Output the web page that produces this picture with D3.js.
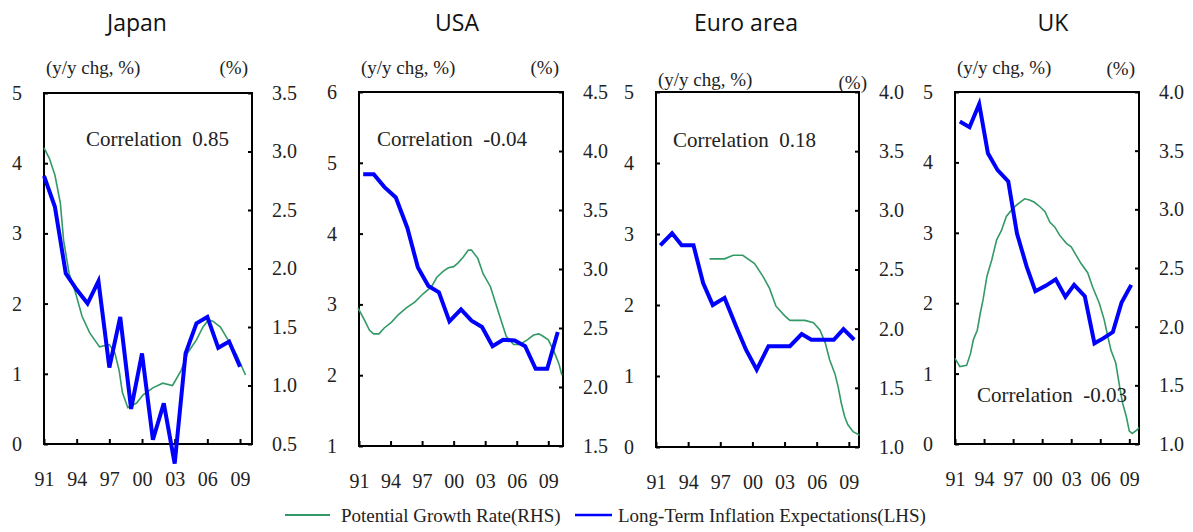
<!DOCTYPE html>
<html>
<head>
<meta charset="utf-8">
<script src="https://cdnjs.cloudflare.com/ajax/libs/d3/7.8.5/d3.min.js"></script>
<style>
  body { margin: 0; background: #fff; }
  text { font-family: "Liberation Serif", "Times New Roman", serif; fill: #222; }
  .title { font-family: "Open Sans", sans-serif; font-size: 23px; fill: #111; }
</style>
</head>
<body>
<div id="chart"></div>
<script>

// x axis ticks, shared by the four panels
var tickYears = [1991, 1994, 1997, 2000, 2003, 2006, 2009];
var tickLabels = ["91", "94", "97", "00", "03", "06", "09"];

// Japan
var jpInflYears = [1991, 1992, 1993, 1994, 1995, 1996, 1997, 1998, 1999, 2000, 2001, 2002, 2003, 2004, 2005, 2006, 2007, 2008, 2009];
var jpInfl = [3.82, 3.38, 2.43, 2.2, 2.0, 2.32, 1.09, 1.81, 0.5, 1.29, 0.06, 0.58, -0.28, 1.29, 1.72, 1.81, 1.37, 1.46, 1.1];
var jpGrowthYears = [1991.0, 1991.5, 1992.0, 1992.5, 1992.8, 1993.3, 1993.9, 1994.5, 1995.2, 1996.1, 1997.0, 1997.5, 1997.9, 1998.2, 1998.7, 1999.5, 2000.1, 2001.0, 2001.9, 2002.8, 2003.6, 2004.2, 2005.0, 2005.6, 2006.1, 2006.5, 2007.2, 2007.9, 2008.7, 2009.5];
var jpGrowth = [3.03, 2.94, 2.80, 2.56, 2.24, 1.96, 1.79, 1.59, 1.45, 1.33, 1.35, 1.28, 1.13, 0.94, 0.81, 0.85, 0.92, 0.98, 1.02, 1.0, 1.13, 1.28, 1.39, 1.50, 1.56, 1.55, 1.50, 1.39, 1.26, 1.09];

// USA
var usInflYears = [1991.4, 1992.4, 1993.4, 1994.5, 1995.6, 1996.6, 1997.6, 1998.6, 1999.6, 2000.7, 2001.7, 2002.7, 2003.7, 2004.7, 2005.8, 2006.8, 2007.8, 2008.9, 2009.9];
var usInfl = [4.84, 4.84, 4.66, 4.51, 4.08, 3.52, 3.26, 3.17, 2.76, 2.93, 2.77, 2.68, 2.41, 2.50, 2.49, 2.41, 2.09, 2.09, 2.61];
var usGrowthYears = [1990.9, 1991.5, 1992.0, 1992.4, 1992.9, 1993.4, 1994.1, 1994.7, 1995.5, 1996.3, 1997.1, 1997.9, 1998.4, 1999.0, 1999.5, 2000.0, 2000.4, 2000.9, 2001.4, 2001.7, 2002.3, 2002.8, 2003.5, 2004.1, 2004.6, 2005.0, 2005.7, 2006.3, 2007.0, 2007.6, 2008.1, 2008.5, 2009.0, 2009.5, 2010.0, 2010.3];
var usGrowth = [2.67, 2.57, 2.48, 2.45, 2.45, 2.50, 2.55, 2.61, 2.67, 2.72, 2.79, 2.85, 2.93, 2.98, 3.01, 3.02, 3.05, 3.10, 3.16, 3.16, 3.09, 2.96, 2.85, 2.68, 2.54, 2.43, 2.36, 2.36, 2.40, 2.44, 2.45, 2.43, 2.40, 2.31, 2.20, 2.10];

// Euro area
var euInflYears = [1991.4, 1992.5, 1993.4, 1994.5, 1995.4, 1996.3, 1997.4, 1998.5, 1999.4, 2000.4, 2001.5, 2002.6, 2003.5, 2004.6, 2005.5, 2006.5, 2007.6, 2008.5, 2009.5];
var euInfl = [2.84, 3.01, 2.84, 2.84, 2.31, 2.0, 2.10, 1.69, 1.37, 1.09, 1.42, 1.42, 1.42, 1.59, 1.51, 1.51, 1.51, 1.66, 1.51];
var euGrowthYears = [1996.0, 1997.4, 1998.2, 1999.1, 2000.2, 2001.0, 2001.6, 2002.2, 2003.0, 2003.5, 2004.9, 2005.7, 2006.3, 2006.8, 2007.2, 2007.7, 2008.0, 2008.3, 2008.6, 2008.9, 2009.4, 2010.0];
var euGrowth = [2.59, 2.59, 2.62, 2.62, 2.55, 2.44, 2.34, 2.19, 2.11, 2.07, 2.07, 2.05, 1.99, 1.88, 1.74, 1.62, 1.51, 1.37, 1.26, 1.19, 1.13, 1.10];

// UK
var ukInflYears = [1991.5, 1992.5, 1993.5, 1994.4, 1995.4, 1996.5, 1997.4, 1998.4, 1999.3, 2000.4, 2001.4, 2002.4, 2003.3, 2004.4, 2005.4, 2006.3, 2007.3, 2008.2, 2009.2];
var ukInfl = [4.58, 4.50, 4.83, 4.13, 3.89, 3.73, 2.99, 2.52, 2.17, 2.25, 2.34, 2.09, 2.26, 2.10, 1.43, 1.50, 1.59, 2.01, 2.26];
var ukGrowthYears = [1991.0, 1991.5, 1992.2, 1992.6, 1992.9, 1993.3, 1993.6, 1993.9, 1994.3, 1994.8, 1995.3, 1995.8, 1996.3, 1997.0, 1997.7, 1998.2, 1998.7, 1999.2, 1999.8, 2000.3, 2000.8, 2001.3, 2001.8, 2002.5, 2003.0, 2003.5, 2004.0, 2004.7, 2005.2, 2005.9, 2006.4, 2006.8, 2007.1, 2007.6, 2008.0, 2008.3, 2008.7, 2009.0, 2009.3, 2009.8, 2010.0];
var ukGrowth = [1.73, 1.66, 1.67, 1.77, 1.89, 1.97, 2.11, 2.23, 2.43, 2.57, 2.74, 2.82, 2.94, 3.01, 3.06, 3.09, 3.08, 3.06, 3.02, 2.98, 2.89, 2.85, 2.78, 2.71, 2.68, 2.61, 2.54, 2.46, 2.34, 2.20, 2.06, 1.91, 1.80, 1.69, 1.49, 1.35, 1.23, 1.11, 1.09, 1.12, 1.14];

// panel layout (pixel boxes etc.)
var panels = [
  { title: "Japan", titleX: 137, corr: "Correlation  0.85", corrX: 86, corrY: 146,
    x0: 44, x1: 252, y0: 93, y1: 444, xEnd: 2010.1,
    left: [0, 5], right: [0.5, 3.5], unitY: 74, pctY: 74,
    inflYears: jpInflYears, infl: jpInfl, growthYears: jpGrowthYears, growth: jpGrowth },
  { title: "USA", titleX: 457, corr: "Correlation  -0.04", corrX: 377, corrY: 146,
    x0: 359, x1: 563, y0: 92, y1: 446, xEnd: 2010.4,
    left: [1, 6], right: [1.5, 4.5], unitY: 74, pctY: 74,
    inflYears: usInflYears, infl: usInfl, growthYears: usGrowthYears, growth: usGrowth },
  { title: "Euro area", titleX: 746, corr: "Correlation  0.18", corrX: 673, corrY: 147,
    x0: 656, x1: 859, y0: 92, y1: 447, xEnd: 2009.95,
    left: [0, 5], right: [1.0, 4.0], unitY: 86, pctY: 89, pctShift: 12,
    inflYears: euInflYears, infl: euInfl, growthYears: euGrowthYears, growth: euGrowth },
  { title: "UK", titleX: 1053, corr: "Correlation  -0.03", corrX: 977, corrY: 402,
    x0: 955, x1: 1139, y0: 92, y1: 444, xEnd: 2010.0,
    left: [0, 5], right: [1.0, 4.0], unitY: 74, pctY: 75,
    inflYears: ukInflYears, infl: ukInfl, growthYears: ukGrowthYears, growth: ukGrowth }
];

var blue = "#0000ff";
var green = "#339966";

var svg = d3.select("#chart").append("svg")
  .attr("width", 1193)
  .attr("height", 532);

function drawPanel(p) {
  var g = svg.append("g");

  var x = d3.scaleLinear().domain([1991, p.xEnd]).range([p.x0, p.x1]);
  var yL = d3.scaleLinear().domain(p.left).range([p.y1, p.y0]);
  var yR = d3.scaleLinear().domain(p.right).range([p.y1, p.y0]);

  // title
  g.append("text").attr("class", "title")
    .attr("x", p.titleX).attr("y", 31)
    .attr("text-anchor", "middle")
    .text(p.title);

  // unit labels
  g.append("text")
    .attr("x", p.x0 + 2).attr("y", p.unitY)
    .style("font-size", "19px")
    .text("(y/y chg, %)");
  g.append("text")
    .attr("x", p.x1 - 4 + (p.pctShift || 0)).attr("y", p.pctY)
    .attr("text-anchor", "end")
    .style("font-size", "19px")
    .text("(%)");

  // left axis (ticks inside)
  var leftAxis = d3.axisLeft(yL).ticks(5).tickSize(-4).tickPadding(22).tickFormat(d3.format("d"));
  var la = g.append("g").attr("transform", "translate(" + p.x0 + ",0)").call(leftAxis);

  // right axis (ticks inside)
  var rightTicks = d3.range(p.right[0], p.right[1] + 0.01, 0.5);
  var rightAxis = d3.axisRight(yR).tickValues(rightTicks).tickSize(-4).tickPadding(20).tickFormat(d3.format(".1f"));
  var ra = g.append("g").attr("transform", "translate(" + p.x1 + ",0)").call(rightAxis);

  // bottom axis (ticks inside)
  var bottomAxis = d3.axisBottom(x).tickValues(tickYears).tickSize(-5).tickPadding(28)
    .tickFormat(function(d, i) { return tickLabels[i]; });
  var ba = g.append("g").attr("transform", "translate(0," + p.y1 + ")").call(bottomAxis);

  [la, ra, ba].forEach(function(a) {
    a.select(".domain").remove();
    a.selectAll(".tick line").attr("stroke", "#000").attr("stroke-width", 2);
    a.selectAll(".tick text")
      .style("font-family", "'Liberation Serif', serif")
      .style("font-size", "20px")
      .attr("fill", "#222");
  });

  // frame
  g.append("rect")
    .attr("x", p.x0).attr("y", p.y0)
    .attr("width", p.x1 - p.x0).attr("height", p.y1 - p.y0)
    .attr("fill", "none").attr("stroke", "#000").attr("stroke-width", 2);

  // potential growth (RHS)
  var growthLine = d3.line()
    .x(function(d, i) { return x(p.growthYears[i]); })
    .y(function(d) { return yR(d); });
  g.append("path").datum(p.growth)
    .attr("d", growthLine)
    .attr("fill", "none").attr("stroke", green).attr("stroke-width", 1.6);

  // inflation expectations (LHS)
  var inflLine = d3.line()
    .x(function(d, i) { return x(p.inflYears[i]); })
    .y(function(d) { return yL(d); });
  g.append("path").datum(p.infl)
    .attr("d", inflLine)
    .attr("fill", "none").attr("stroke", blue).attr("stroke-width", 4)
    .attr("stroke-linejoin", "miter");

  // correlation note
  g.append("text")
    .attr("x", p.corrX).attr("y", p.corrY)
    .style("font-size", "21px")
    .attr("xml:space", "preserve")
    .style("white-space", "pre")
    .text(p.corr);
}

panels.forEach(drawPanel);

// legend
var legend = svg.append("g");
legend.append("line").attr("x1", 285).attr("x2", 330).attr("y1", 515).attr("y2", 515)
  .attr("stroke", green).attr("stroke-width", 2);
legend.append("text").attr("x", 341).attr("y", 522).style("font-size", "19px")
  .text("Potential Growth Rate(RHS)");
legend.append("line").attr("x1", 575).attr("x2", 612).attr("y1", 515).attr("y2", 515)
  .attr("stroke", blue).attr("stroke-width", 2.5);
legend.append("text").attr("x", 618).attr("y", 522).style("font-size", "19px")
  .text("Long-Term Inflation Expectations(LHS)");

</script>
</body>
</html>
